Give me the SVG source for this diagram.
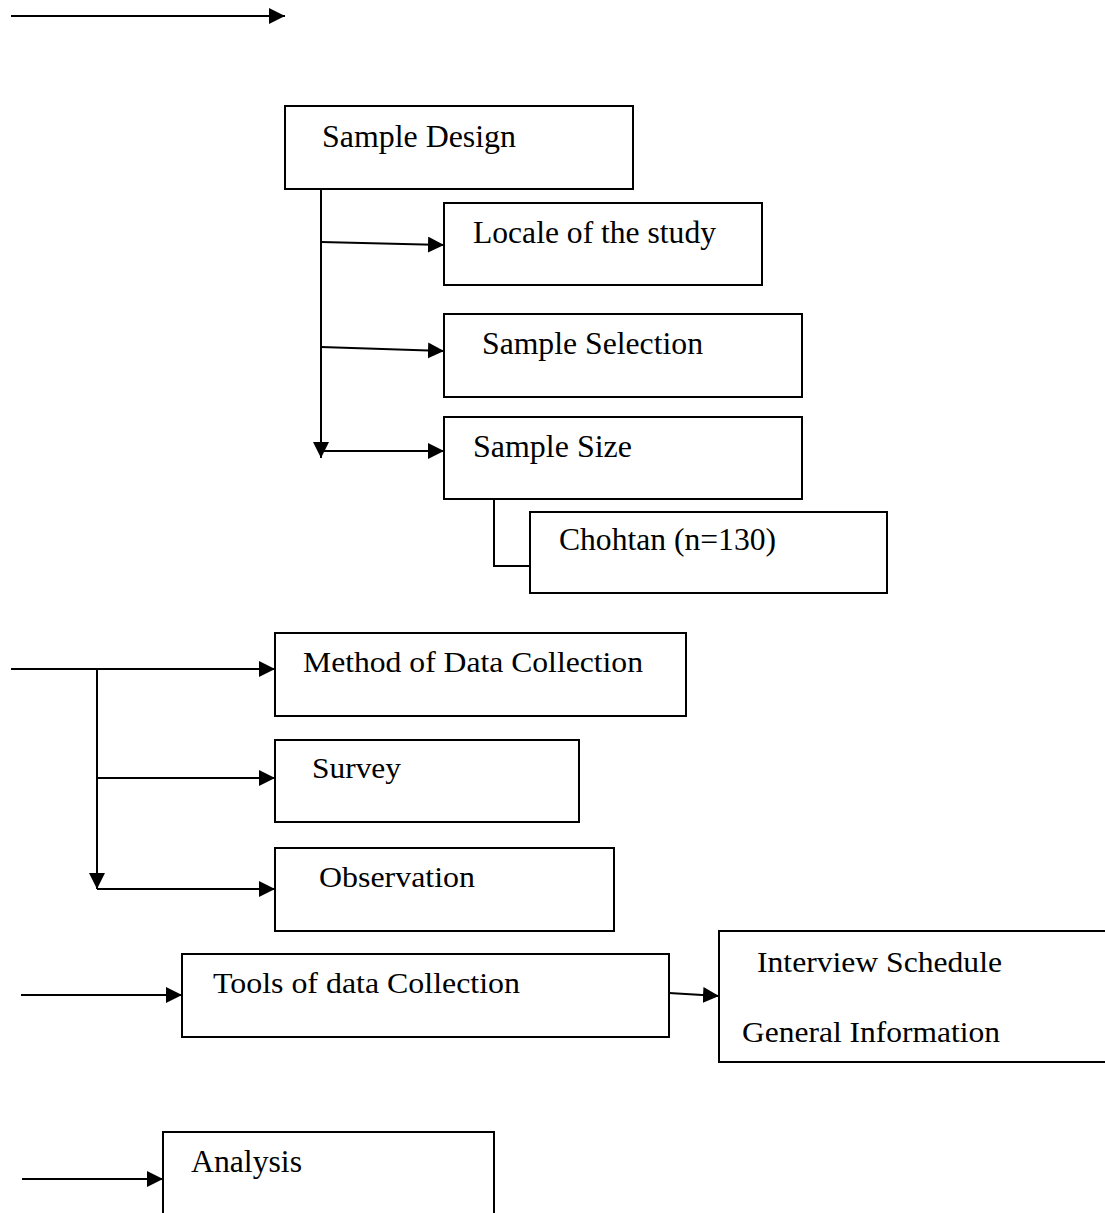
<svg xmlns="http://www.w3.org/2000/svg" width="1105" height="1213" viewBox="0 0 1105 1213">
<style>
.box{fill:#fff;stroke:#000;stroke-width:2}
.ln{fill:none;stroke:#000;stroke-width:2}
.t{font-family:"Liberation Serif","Times New Roman",serif;font-size:32px;fill:#000}
.s{font-size:30px}
</style>
<defs>
<marker id="ah" markerUnits="userSpaceOnUse" markerWidth="17" markerHeight="17" refX="16" refY="8" orient="auto" viewBox="0 0 17 17">
<path d="M0,0 L16,8 L0,16 Z" fill="#000"/>
</marker>
</defs>
<g id="connectors">
<line class="ln" x1="11" y1="16" x2="285" y2="16" marker-end="url(#ah)"/>
<line class="ln" x1="321" y1="189" x2="321" y2="458" marker-end="url(#ah)"/>
<line class="ln" x1="321" y1="242" x2="444" y2="245" marker-end="url(#ah)"/>
<line class="ln" x1="321" y1="347" x2="444" y2="351" marker-end="url(#ah)"/>
<line class="ln" x1="321" y1="451" x2="444" y2="451" marker-end="url(#ah)"/>
<polyline class="ln" points="458,499 494,499 494,566 530,566"/>
<line class="ln" x1="11" y1="669" x2="275" y2="669" marker-end="url(#ah)"/>
<line class="ln" x1="97" y1="669" x2="97" y2="889" marker-end="url(#ah)"/>
<line class="ln" x1="97" y1="778" x2="275" y2="778" marker-end="url(#ah)"/>
<line class="ln" x1="97" y1="889" x2="275" y2="889" marker-end="url(#ah)"/>
<line class="ln" x1="21" y1="995" x2="182" y2="995" marker-end="url(#ah)"/>
<line class="ln" x1="669" y1="993" x2="719" y2="996" marker-end="url(#ah)"/>
<line class="ln" x1="22" y1="1179" x2="163" y2="1179" marker-end="url(#ah)"/>
</g>
<g id="sample-design"><rect class="box" x="285" y="106" width="348" height="83"/><text class="t" x="322" y="147" textLength="194" lengthAdjust="spacingAndGlyphs">Sample Design</text></g>
<g id="locale"><rect class="box" x="444" y="203" width="318" height="82"/><text class="t" x="473" y="243" textLength="243" lengthAdjust="spacingAndGlyphs">Locale of the study</text></g>
<g id="sample-selection"><rect class="box" x="444" y="314" width="358" height="83"/><text class="t" x="482" y="354" textLength="221" lengthAdjust="spacingAndGlyphs">Sample Selection</text></g>
<g id="sample-size"><rect class="box" x="444" y="417" width="358" height="82"/><text class="t" x="473" y="457" textLength="159" lengthAdjust="spacingAndGlyphs">Sample Size</text></g>
<g id="chohtan"><rect class="box" x="530" y="512" width="357" height="81"/><text class="t" x="559" y="550" textLength="217" lengthAdjust="spacingAndGlyphs">Chohtan (n=130)</text></g>
<g id="method"><rect class="box" x="275" y="633" width="411" height="83"/><text class="t s" x="303" y="672" textLength="340" lengthAdjust="spacingAndGlyphs">Method of Data Collection</text></g>
<g id="survey"><rect class="box" x="275" y="740" width="304" height="82"/><text class="t s" x="312" y="778" textLength="89" lengthAdjust="spacingAndGlyphs">Survey</text></g>
<g id="observation"><rect class="box" x="275" y="848" width="339" height="83"/><text class="t s" x="319" y="887" textLength="156" lengthAdjust="spacingAndGlyphs">Observation</text></g>
<g id="tools"><rect class="box" x="182" y="954" width="487" height="83"/><text class="t s" x="213" y="993" textLength="307" lengthAdjust="spacingAndGlyphs">Tools of data Collection</text></g>
<g id="interview"><rect class="box" x="719" y="931" width="400" height="131"/><text class="t s" x="757" y="972" textLength="245" lengthAdjust="spacingAndGlyphs">Interview Schedule</text><text class="t s" x="742" y="1042" textLength="258" lengthAdjust="spacingAndGlyphs">General Information</text></g>
<g id="analysis"><rect class="box" x="163" y="1132" width="331" height="100"/><text class="t" x="191" y="1172" textLength="111" lengthAdjust="spacingAndGlyphs">Analysis</text></g>
</svg>
